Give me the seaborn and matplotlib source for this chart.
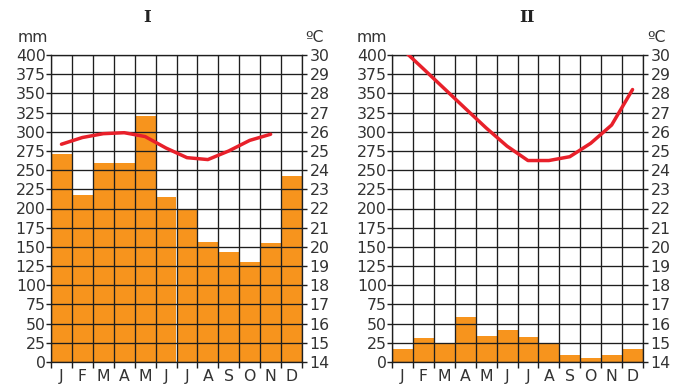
import numpy as np
import pandas as pd
import matplotlib
matplotlib.use("Agg")
import matplotlib.pyplot as plt
import seaborn as sns

months = ["J", "F", "M", "A", "M", "J", "J", "A", "S", "O", "N", "D"]
rain_1 = [271, 218, 259, 259, 320, 215, 199, 156, 143, 130, 155, 242]
temp_1 = [25.35, 25.7, 25.9, 25.95, 25.75, 25.15, 24.65, 24.55, 25.0, 25.55, 25.87, np.nan]
rain_2 = [17, 31, 25, 58, 34, 42, 33, 25, 9, 5, 9, 17]
temp_2 = [30.3, 29.28, 28.25, 27.22, 26.2, 25.25, 24.5, 24.5, 24.7, 25.4, 26.35, 28.2]
rain_ticks = list(range(0, 401, 25))
temp_ticks = list(range(14, 31))
titles = ["I", "II"]

sns.set_theme(style="white")
plt.rcParams["font.family"] = ["DejaVu Sans"]

W, H = 681, 388
fig = plt.figure(figsize=(W / 100, H / 100), dpi=100)

BAR = "#F7941D"
RED = "#E8202A"
GRID = "#1e1e1e"
TXT = "#333333"
FS = 11.3

panels = [
    dict(left=51, right=302, title_x=147, mm_x=33, c_x=315),
    dict(left=392, right=643, title_x=527, mm_x=372, c_x=657),
]
rains = [rain_1, rain_2]
temps = [temp_1, temp_2]

for p, rain, temp, title in zip(panels, rains, temps, titles):
    ax = fig.add_axes([p["left"] / W, 1 - 362 / H, (p["right"] - p["left"]) / W, 307 / H])
    df = pd.DataFrame({"idx": np.arange(len(months)), "rain": rain, "temp": temp})
    sns.barplot(data=df, x="idx", y="rain", color=BAR, width=1.0, ax=ax,
                saturation=1, edgecolor="none", linewidth=0, zorder=1)
    ax.set_xlim(-0.5, len(months) - 0.5)
    ax.set_ylim(0, 400)
    ax.set_yticks(rain_ticks)
    ax.set_yticklabels([str(v) for v in rain_ticks])
    ax.set_xticks(np.arange(len(months)))
    ax.set_xticklabels(months)
    ax.set_xticks(np.arange(-0.5, len(months)), minor=True)
    ax.set_xlabel("")
    ax.set_ylabel("")
    ax.set_axisbelow(False)
    ax.grid(False)
    ax.grid(True, axis="y", which="major", color=GRID, linewidth=0.95, zorder=3)
    ax.grid(True, axis="x", which="minor", color=GRID, linewidth=0.95, zorder=3)
    ax.tick_params(axis="x", which="major", length=0, pad=5, labelsize=FS, labelcolor=TXT)
    ax.tick_params(axis="x", which="minor", length=4, width=1, color=GRID, direction="out", bottom=True)
    ax.tick_params(axis="y", which="major", length=3.5, width=1, color=GRID, direction="out",
                   left=True, pad=0.3, labelsize=FS, labelcolor=TXT)
    for s in ax.spines.values():
        s.set_color(GRID)
        s.set_linewidth(0.95)
        s.set_zorder(4)

    ax2 = ax.twinx()
    sns.lineplot(data=df, x="idx", y="temp", color=RED, linewidth=2.5, ax=ax2, zorder=5)
    ax2.set_ylim(14, 30)
    ax2.set_yticks(temp_ticks)
    ax2.set_yticklabels([str(v) for v in temp_ticks])
    ax2.set_xlim(-0.5, len(months) - 0.5)
    ax2.set_ylabel("")
    ax2.grid(False)
    ax2.tick_params(axis="y", length=3.5, width=1, color=GRID, direction="out", right=True,
                    pad=2, labelsize=FS, labelcolor=TXT)
    for s in ax2.spines.values():
        s.set_visible(False)

    fig.text(p["title_x"] / W, 1 - 17 / H, title, ha="center", va="center",
             fontsize=12, fontweight="bold", family="DejaVu Serif", color="#222222")
    fig.text(p["mm_x"] / W, 1 - 37 / H, "mm", ha="center", va="center", fontsize=FS, color=TXT)
    fig.text(p["c_x"] / W, 1 - 37 / H, "ºC", ha="center", va="center", fontsize=FS, color=TXT)

fig.savefig("out.png", dpi=100, facecolor="white")
